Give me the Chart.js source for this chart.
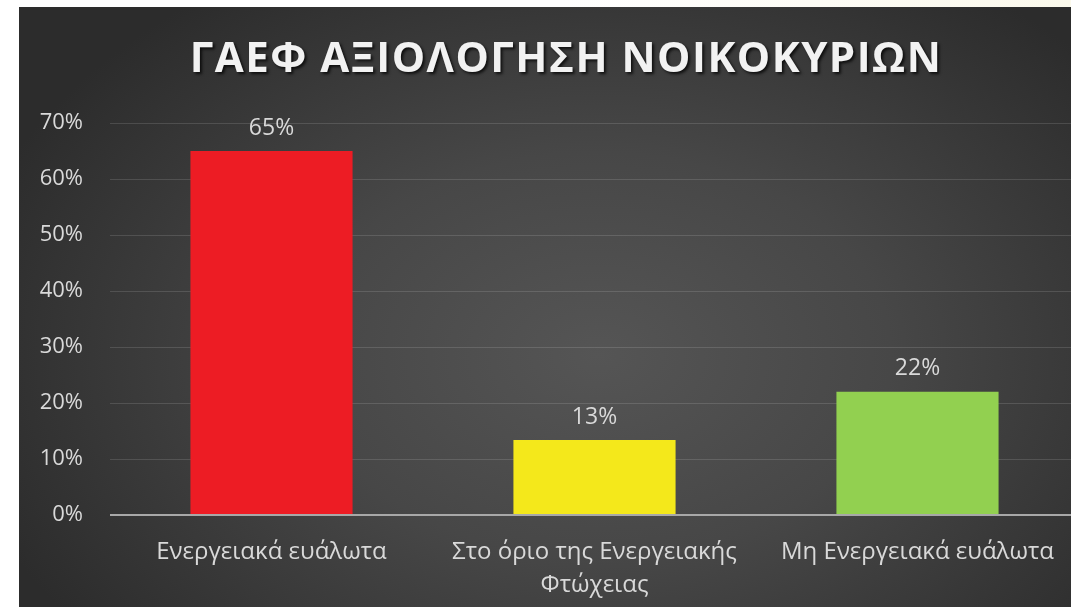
<!DOCTYPE html>
<html>
<head>
<meta charset="utf-8">
<script src="https://cdn.jsdelivr.net/npm/chart.js@4"></script>
<style>
  html, body { margin: 0; padding: 0; background: #ffffff; overflow: hidden; width: 1071px; height: 607px; }
  #bg { position: absolute; left: 19px; top: 7px; width: 1052px; height: 600px;
        background: radial-gradient(ellipse 62% 75% at 55% 58%, #555555 0%, #474747 45%, #2c2c2c 100%); }
  #topstrip { position: absolute; left: 560px; top: 0; width: 511px; height: 7px; background: linear-gradient(90deg, #ffffff, #fbf9ec); }
  #c { position: absolute; left: 0; top: 0; }
</style>
</head>
<body>
<div id="bg"></div>
<div id="topstrip"></div>
<canvas id="c" width="1090" height="607"></canvas>
<script>
const titleText = "ΓΑΕΦ ΑΞΙΟΛΟΓΗΣΗ ΝΟΙΚΟΚΥΡΙΩΝ";
const categories = ["Ενεργειακά ευάλωτα", ["Στο όριο της Ενεργειακής", "Φτώχειας"], "Μη Ενεργειακά ευάλωτα"];
const values = [65, 13.4, 22];
const valueLabels = ["65%", "13%", "22%"];
const barColors = ["#ed1c24", "#f4e81b", "#92d050"];
const yMin = 0, yMax = 70, yStep = 10;

const FONT = "'Open Sans', 'Noto Sans', sans-serif";
const TEXT = "#d9d9d9";

const titlePlugin = {
  id: "shadowTitle",
  afterDraw(chart) {
    const ctx = chart.ctx;
    ctx.save();
    ctx.font = "bold 42px " + FONT;
    ctx.letterSpacing = "1.5px";
    ctx.textAlign = "center";
    ctx.textBaseline = "alphabetic";
    ctx.shadowColor = "rgba(0,0,0,0.75)";
    ctx.shadowOffsetX = 2;
    ctx.shadowOffsetY = 2;
    ctx.shadowBlur = 3;
    ctx.fillStyle = "#f2f2f2";
    ctx.fillText(titleText, 566, 72);
    ctx.restore();
  }
};

const valuePlugin = {
  id: "valueLabels",
  afterDatasetsDraw(chart) {
    const ctx = chart.ctx;
    const meta = chart.getDatasetMeta(0);
    ctx.save();
    ctx.font = "23px " + FONT;
    ctx.fillStyle = TEXT;
    ctx.textAlign = "center";
    ctx.textBaseline = "middle";
    meta.data.forEach((bar, i) => {
      ctx.fillText(valueLabels[i], bar.x, bar.y - 23);
    });
    ctx.restore();
  }
};

new Chart(document.getElementById("c"), {
  type: "bar",
  data: {
    labels: categories,
    datasets: [{
      data: values,
      backgroundColor: barColors,
      borderWidth: 0,
      barPercentage: 0.502,
      categoryPercentage: 1.0
    }]
  },
  options: {
    responsive: false,
    animation: false,
    layout: { padding: { top: 123, right: 11, bottom: 0, left: 0 } },
    plugins: { legend: { display: false }, title: { display: false }, tooltip: { enabled: false } },
    scales: {
      x: {
        grid: { display: false, drawTicks: false },
        border: { display: false },
        ticks: {
          color: TEXT,
          font: { family: FONT, size: 24, lineHeight: 1.4 },
          padding: 20,
          maxRotation: 0,
          autoSkip: false
        },
        afterFit(scale) { scale.height = 92; }
      },
      y: {
        min: yMin, max: yMax,
        grid: {
          drawTicks: false,
          color: (c) => c.tick && c.tick.value === 0 ? "#a8a8a8" : "rgba(255,255,255,0.13)",
          lineWidth: (c) => c.tick && c.tick.value === 0 ? 2 : 1
        },
        border: { display: false },
        ticks: {
          stepSize: yStep,
          color: TEXT,
          font: { family: FONT, size: 22 },
          padding: 27,
          callback: (v) => v + "%"
        },
        afterFit(scale) { scale.width = 110; }
      }
    }
  },
  plugins: [titlePlugin, valuePlugin]
});
</script>
</body>
</html>
